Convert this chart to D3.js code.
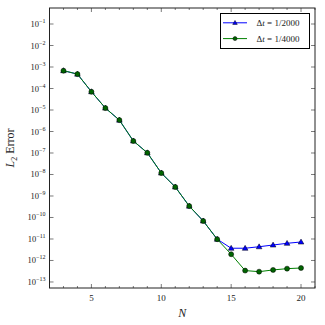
<!DOCTYPE html>
<html>
<head>
<meta charset="utf-8">
<script src="https://cdn.jsdelivr.net/npm/d3@7"></script>
<style>
body { margin: 0; background: #fff; }
text { font-family: "Liberation Serif", "DejaVu Serif", serif; fill: #222; }
</style>
</head>
<body>
<div id="chart"></div>
<script>
// values (log10 of the error)
const nValues = [3, 4, 5, 6, 7, 8, 9, 10, 11, 12, 13, 14, 15, 16, 17, 18, 19, 20];
const logErr2000 = [-3.17, -3.33, -4.15, -4.91, -5.47, -6.44, -6.99, -7.93, -8.58, -9.47, -10.16, -11.01, -11.43, -11.43, -11.36, -11.28, -11.2, -11.14];
const logErr4000 = [-3.17, -3.33, -4.15, -4.91, -5.47, -6.44, -6.99, -7.93, -8.58, -9.47, -10.16, -11.01, -11.71, -12.47, -12.52, -12.44, -12.38, -12.35];
const yTickExps = [-1, -2, -3, -4, -5, -6, -7, -8, -9, -10, -11, -12, -13];
const xMajor = [5, 10, 15, 20];
const xMinor = d3.range(2, 22);
const seriesNames = ["1/2000", "1/4000"];

const W = 325, H = 325;
const m = {left: 49.5, right: 10, top: 8, bottom: 37};

const svg = d3.select("#chart").append("svg")
    .attr("width", W).attr("height", H);

const x = d3.scaleLinear().domain([2, 21]).range([m.left, W - m.right]);
const y = d3.scaleLog().domain([Math.pow(10, -13.28), Math.pow(10, -0.255)]).range([H - m.bottom, m.top]);

const x0 = x.range()[0], x1 = x.range()[1];
const y0 = y.range()[0], y1 = y.range()[1];

// ticks, inward on all four sides
let ticks = svg.append("g").attr("stroke", "#222").attr("stroke-width", 0.6);
for (let v of xMinor) {
    let len = xMajor.includes(v) ? 4 : 2;
    ticks.append("line").attr("x1", x(v)).attr("x2", x(v)).attr("y1", y0).attr("y2", y0 - len);
    ticks.append("line").attr("x1", x(v)).attr("x2", x(v)).attr("y1", y1).attr("y2", y1 + len);
}
for (let e of yTickExps) {
    let yy = y(Math.pow(10, e));
    ticks.append("line").attr("x1", x0).attr("x2", x0 + 4).attr("y1", yy).attr("y2", yy);
    ticks.append("line").attr("x1", x1).attr("x2", x1 - 4).attr("y1", yy).attr("y2", yy);
}

// tick labels
svg.append("g").selectAll("text").data(xMajor).enter().append("text")
    .attr("x", d => x(d)).attr("y", y0 + 13)
    .attr("text-anchor", "middle").attr("font-size", 9)
    .text(d => d);

let yl = svg.append("g").selectAll("text").data(yTickExps).enter().append("text")
    .attr("x", x0 - 4).attr("y", d => y(Math.pow(10, d)) + 3)
    .attr("text-anchor", "end").attr("font-size", 8.5);
yl.append("tspan").text("10");
yl.append("tspan").attr("dy", -4).attr("font-size", 6).text(d => "\u2212" + (-d));

// axis titles
svg.append("text").attr("x", (x0 + x1) / 2).attr("y", H - 8)
    .attr("text-anchor", "middle").attr("font-size", 12).attr("font-style", "italic").text("N");
let ylab = svg.append("text")
    .attr("transform", `translate(14,${(y0 + y1) / 2}) rotate(-90)`)
    .attr("text-anchor", "middle").attr("font-size", 12);
ylab.append("tspan").attr("font-style", "italic").text("L");
ylab.append("tspan").attr("dy", 3).attr("font-size", 8).text("2");
ylab.append("tspan").attr("dy", -3).text(" Error");

// series
const line = d3.line().x(d => x(d[0])).y(d => y(Math.pow(10, d[1])));
const d2000 = nValues.map((n, i) => [n, logErr2000[i]]);
const d4000 = nValues.map((n, i) => [n, logErr4000[i]]);

const tri = d3.symbol().type(d3.symbolTriangle).size(14);
const triSmall = d3.symbol().type(d3.symbolTriangle).size(9);

function drawBlue(g, data) {
    g.append("path").datum(data).attr("d", line)
        .attr("fill", "none").attr("stroke", "#0000ff").attr("stroke-width", 1);
    g.selectAll("path.m").data(data).enter().append("path").attr("class", "m")
        .attr("d", tri)
        .attr("transform", d => `translate(${x(d[0])},${y(Math.pow(10, d[1])) + 0.4})`)
        .attr("fill", "#0000ff").attr("stroke", "#000").attr("stroke-width", 0.5);
}
function drawGreen(g, data) {
    g.append("path").datum(data).attr("d", line)
        .attr("fill", "none").attr("stroke", "#008000").attr("stroke-width", 1);
    g.selectAll("circle").data(data).enter().append("circle")
        .attr("cx", d => x(d[0])).attr("cy", d => y(Math.pow(10, d[1])))
        .attr("r", 2.5).attr("fill", "#006400").attr("stroke", "#000").attr("stroke-width", 0.5);
}
drawBlue(svg.append("g"), d2000);
drawGreen(svg.append("g"), d4000);

// frame
svg.append("rect").attr("x", x0).attr("y", y1).attr("width", x1 - x0).attr("height", y0 - y1)
    .attr("fill", "none").attr("stroke", "#222").attr("stroke-width", 1);

// legend
let lg = svg.append("g");
lg.append("rect").attr("x", 220.5).attr("y", 13.5).attr("width", 89).attr("height", 35)
    .attr("fill", "#fff").attr("stroke", "#000").attr("stroke-width", 1);
seriesNames.forEach((s, i) => {
    let yy = 22.8 + i * 15.8;
    lg.append("line").attr("x1", 223).attr("x2", 247).attr("y1", yy).attr("y2", yy)
        .attr("stroke", i === 0 ? "#0000ff" : "#008000").attr("stroke-width", 1);
    if (i === 0) {
        lg.append("path").attr("d", triSmall).attr("transform", `translate(235,${yy + 0.3})`)
            .attr("fill", "#0000ff").attr("stroke", "#000").attr("stroke-width", 0.5);
    } else {
        lg.append("circle").attr("cx", 235).attr("cy", yy).attr("r", 2)
            .attr("fill", "#006400").attr("stroke", "#000").attr("stroke-width", 0.5);
    }
    let t = lg.append("text").attr("x", 256.5).attr("y", yy + 3).attr("font-size", 9);
    t.append("tspan").text("\u0394");
    t.append("tspan").attr("font-style", "italic").text("t");
    t.append("tspan").text(" = " + s);
});
</script>
</body>
</html>
